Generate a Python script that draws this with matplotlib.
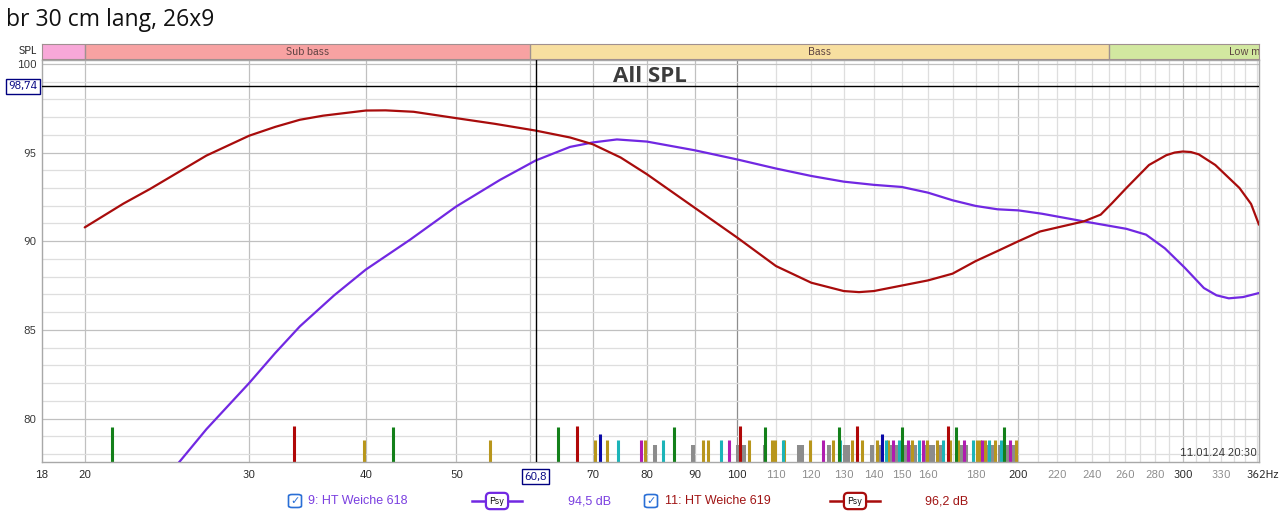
import matplotlib
matplotlib.use("Agg")
import matplotlib.pyplot as plt
from matplotlib.transforms import blended_transform_factory, ScaledTranslation
from matplotlib.patches import FancyBboxPatch
from matplotlib.lines import Line2D

# ---------------- data ----------------
title = "br 30 cm lang, 26x9"

red_f = [20, 22, 23.5, 27, 30, 32, 34, 36, 40, 42, 45, 50, 55, 60.8, 66.2, 70, 75, 80, 90,
         100, 110, 120, 130, 135, 140, 150, 160, 170, 180, 190, 200, 211, 235, 245, 252, 261,
         276, 288, 294, 300, 306, 312, 325, 345, 355, 362]
red_v = [90.78, 92.12, 92.95, 94.83, 95.95, 96.45, 96.85, 97.08, 97.37, 97.38, 97.3, 96.94,
         96.62, 96.24, 95.85, 95.47, 94.72, 93.78, 91.89, 90.2, 88.6, 87.66, 87.19, 87.13,
         87.19, 87.5, 87.79, 88.17, 88.88, 89.45, 90.0, 90.55, 91.12, 91.5, 92.15, 93.0, 94.3,
         94.85, 95.0, 95.06, 95.03, 94.9, 94.3, 93.0, 92.1, 90.93]

pur_f = [24, 25.3, 27, 30, 32, 34, 37, 40, 44.6, 50, 55.7, 60.8, 66.2, 70, 74.3, 80, 90, 100,
         110, 120, 130, 140, 150, 160, 170, 180, 190, 200, 212, 235, 261, 274, 287, 301.5, 316,
         326, 336, 348, 362]
pur_v = [76.2, 77.6, 79.4, 82.0, 83.7, 85.2, 86.95, 88.4, 90.08, 91.96, 93.46, 94.55, 95.32,
         95.57, 95.74, 95.62, 95.13, 94.61, 94.1, 93.68, 93.36, 93.18, 93.06, 92.74, 92.31,
         91.99, 91.8, 91.74, 91.55, 91.12, 90.7, 90.37, 89.6, 88.5, 87.36, 86.95, 86.78, 86.85,
         87.08]

# resonance markers (frequency, top level per colour group)
green_f = [21.4, 42.8, 64.3, 85.5, 107.0, 128.5, 150.2, 171.3, 192.8]
red_mark_f = [33.5, 67.3, 100.6, 134.3, 168.1]
blue_f = [71.3, 142.9]
gold_f = [39.8, 54.4, 70.4, 72.5, 79.6, 91.8, 93.0, 102.9, 108.9, 109.7, 112.3, 119.7, 126.6,
          132.6, 136.0, 141.1, 145.0, 154.0, 159.6, 163.5, 169.1, 172.3, 180.4, 181.8, 184.3,
          188.6, 198.8]
cyan_f = [74.5, 83.2, 96.0, 111.8, 128.9, 144.2, 148.9, 156.5, 166.0, 178.8, 185.9, 191.7]
magenta_f = [78.8, 97.9, 123.5, 146.8, 152.3, 158.1, 174.7, 183.0, 196.1]
gray_f = [81.6, 89.6, 100.1, 101.6, 107.0, 116.3, 117.2, 125.4, 130.3, 131.3, 139.5, 142.1,
          146.0, 147.8, 151.1, 153.0, 155.0, 158.7, 160.7, 161.9, 164.7, 173.4, 175.6, 185.3,
          187.2, 189.0, 190.9, 192.8, 194.7, 196.6, 198.5]
mark_levels = {"green": 79.5, "red": 79.6, "blue": 79.15, "gold": 78.8, "cyan": 78.8,
               "magenta": 78.8, "gray": 78.5}

bands = [("", 18, 20), ("Sub bass", 20, 60), ("Bass", 60, 250), ("Low mid", 250, 500)]
band_colors = ["#f8a8d8", "#f8a2a2", "#f8dfa0", "#d2e8a0"]

xtick_vals = [18, 20, 30, 40, 50, 70, 80, 90, 100, 110, 120, 130, 140, 150, 160, 180, 200,
              220, 240, 260, 280, 300, 330, 362]
xtick_labels = ["18", "20", "30", "40", "50", "70", "80", "90", "100", "110", "120", "130",
                "140", "150", "160", "180", "200", "220", "240", "260", "280", "300", "330",
                "362Hz"]
xtick_dark = {"18", "20", "30", "40", "50", "70", "80", "90", "100", "200", "300", "362Hz"}
ytick_vals = [80, 85, 90, 95, 100]

cursor_f = 60.8
cursor_v = 98.74
legend_items = [("9: HT Weiche 618", "94,5 dB"), ("11: HT Weiche 619", "96,2 dB")]
timestamp = "11.01.24 20:30"

# ---------------- style ----------------
W, H = 1280, 513
PUR = "#7128e2"
RED = "#a80c0c"
colmap = {"green": "#13801a", "red": "#b00808", "blue": "#0a0aa8", "gold": "#b8961c",
          "cyan": "#1cb4b8", "magenta": "#b01cb0", "gray": "#8c8c8c"}
cond = ["IBM Plex Sans Condensed", "DejaVu Sans"]
sans = ["Liberation Sans", "DejaVu Sans"]
FS = 8.7

fig = plt.figure(figsize=(W / 100, H / 100), dpi=100)
fig.patch.set_facecolor("white")

def fx(px):
    return px / W

def fy(py):
    return 1 - py / H

L, R, T, B = 42, 1259, 60, 462
ax = fig.add_axes([fx(L), fy(B), (R - L) / W, (B - T) / H])
ax.set_xscale("log")
ax.set_xlim(18, 362)
ax.set_ylim(77.55, 100.22)

# grid
for f in list(range(20, 201, 10)) + list(range(210, 361, 10)):
    if f == 100:
        c = "#8e8e8e"
    elif f in (20, 30, 40, 50, 60, 70, 80, 90, 200, 300):
        c = "#c0c0c0"
    else:
        c = "#dedede"
    ax.axvline(f, color=c, lw=0.9, zorder=0)
for v in range(78, 101):
    c = "#c0c0c0" if v % 5 == 0 else "#dedede"
    ax.axhline(v, color=c, lw=0.9, zorder=0)

# markers
ybot = 77.55
order = [("gray", gray_f, 2.9), ("gold", gold_f, 2.2), ("cyan", cyan_f, 2.2),
         ("magenta", magenta_f, 2.2), ("green", green_f, 2.2), ("red", red_mark_f, 2.2),
         ("blue", blue_f, 2.2)]
for name, fs, lw in order:
    ax.vlines(fs, ybot, mark_levels[name], colors=colmap[name], lw=lw, zorder=2)

# curves
ax.plot(pur_f, pur_v, color=PUR, lw=1.6, zorder=4, solid_capstyle="round",
        solid_joinstyle="round")
ax.plot(red_f, red_v, color=RED, lw=1.6, zorder=4, solid_capstyle="round",
        solid_joinstyle="round")

# cursor
ax.axvline(cursor_f, color="black", lw=1.0, zorder=5)
ax.axhline(cursor_v, color="black", lw=1.0, zorder=5)

for sp in ax.spines.values():
    sp.set_color("#a8a8a8")
    sp.set_linewidth(1.0)

ax.set_yticks(ytick_vals)
ax.set_yticklabels([str(v) for v in ytick_vals], fontsize=FS, color="#333333",
                   family=cond)
ax.set_xticks(xtick_vals)
ax.set_xticklabels(xtick_labels, fontsize=FS, family=cond)
ax.minorticks_off()
ax.tick_params(axis="both", length=0)
ax.tick_params(axis="x", pad=6)
ax.tick_params(axis="y", pad=4)
for lab in ax.get_xticklabels():
    t = lab.get_text()
    lab.set_color("#222222" if t in xtick_dark else "#8a8a8a")
    if t == "362Hz":
        lab.set_horizontalalignment("left")
        lab.set_transform(lab.get_transform() + ScaledTranslation(-0.12, 0, fig.dpi_scale_trans))

trx = blended_transform_factory(ax.transData, ax.transAxes)
try_ = blended_transform_factory(ax.transAxes, ax.transData)
ax.text(cursor_f, -0.037, "60,8", transform=trx, ha="center", va="center", fontsize=FS,
        family=cond, color="#000080", clip_on=False,
        bbox=dict(boxstyle="square,pad=0.2", fc="white", ec="#000080", lw=1))
ax.text(-0.004, cursor_v, "98,74", transform=try_, ha="right", va="center", fontsize=FS,
        family=cond, color="#000080", clip_on=False,
        bbox=dict(boxstyle="square,pad=0.2", fc="white", ec="#000080", lw=1))
ax.text(0.9985, 0.022, timestamp, transform=ax.transAxes, ha="right", va="center",
        fontsize=FS, family=cond, color="#333333", zorder=6)

# band bar
axb = fig.add_axes([fx(L), fy(59), (R - L) / W, 15 / H])
axb.set_xscale("log")
axb.set_xlim(18, 362)
axb.set_ylim(0, 1)
axb.set_xticks([])
axb.set_yticks([])
axb.minorticks_off()
for (name, f1, f2), c in zip(bands, band_colors):
    axb.axvspan(f1, f2, color=c, zorder=0)
    axb.axvline(f2, color="#a09090", lw=1.0, zorder=1)
    if name:
        axb.text((f1 * f2) ** 0.5, 0.45, name, ha="center", va="center", fontsize=8.5,
                 family=cond, color="#5a4040", clip_on=True)
for sp in axb.spines.values():
    sp.set_color("#a09090")
fig.text(fx(37), fy(51), "SPL", ha="right", va="center", fontsize=FS, family=cond,
         color="#222222")

# titles
fig.text(fx(6), fy(20), title, ha="left", va="center", fontsize=16.5, color="#111111",
         family=["Open Sans", "DejaVu Sans"])
fig.text(fx(650), fy(76), "All SPL", ha="center", va="center", fontsize=16,
         fontweight="bold", color="#3c3c3c", family=["Open Sans", "DejaVu Sans"])

# legend
def checkbox(px, py):
    s = 13
    fig.add_artist(FancyBboxPatch((fx(px - s / 2), fy(py + s / 2)), s / W, s / H,
                                  boxstyle="round,pad=0,rounding_size=0.003",
                                  transform=fig.transFigure, fc="white", ec="#2a6fd6",
                                  lw=1.2))
    fig.text(fx(px), fy(py), "\u2713", ha="center", va="center", fontsize=8,
             color="#2a6fd6", family="DejaVu Sans")

def psy(x1, x2, py, color):
    fig.add_artist(Line2D([fx(x1), fx(x2)], [fy(py), fy(py)], color=color, lw=1.8,
                          transform=fig.transFigure))
    fig.text(fx((x1 + x2) / 2), fy(py), "Psy", ha="center", va="center", fontsize=7.5,
             color="#111111", family=cond,
             bbox=dict(boxstyle="round,pad=0.35,rounding_size=0.4", fc="white", ec=color,
                       lw=1.6))

LY = 501
checkbox(295, LY)
fig.text(fx(308), fy(LY), legend_items[0][0], ha="left", va="center", fontsize=9,
         color="#7a3fe0", family=sans)
psy(472, 522, LY, PUR)
fig.text(fx(568), fy(LY), legend_items[0][1], ha="left", va="center", fontsize=9,
         color="#7a3fe0", family=sans)
checkbox(651, LY)
fig.text(fx(665), fy(LY), legend_items[1][0], ha="left", va="center", fontsize=9,
         color="#a01414", family=sans)
psy(830, 880, LY, RED)
fig.text(fx(925), fy(LY), legend_items[1][1], ha="left", va="center", fontsize=9,
         color="#a01414", family=sans)

fig.savefig("out.png", dpi=100)
